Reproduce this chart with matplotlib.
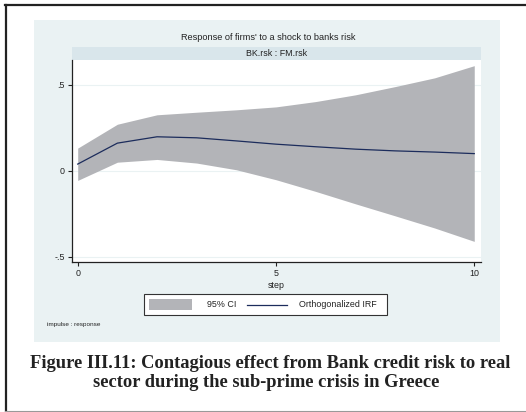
import numpy as np
import matplotlib
matplotlib.use("Agg")
import matplotlib.pyplot as plt
from matplotlib.patches import Rectangle
from matplotlib.lines import Line2D

# ==== IRF data ====
steps = [0, 1, 2, 3, 4, 5, 6, 7, 8, 9, 10]
irf = [0.039, 0.161, 0.198, 0.192, 0.174, 0.155, 0.140, 0.126, 0.116, 0.109, 0.100]
ci_upper = [0.132, 0.271, 0.326, 0.341, 0.355, 0.372, 0.403, 0.442, 0.490, 0.541, 0.612]
ci_lower = [-0.056, 0.050, 0.066, 0.045, 0.006, -0.052, -0.120, -0.192, -0.262, -0.333, -0.411]
yticks = [-0.5, 0, 0.5]
ytick_labels = ['-.5', '0', '.5']
xticks = [0, 5, 10]

title = "Response of firms' to a shock to banks risk"
strip_text = "BK.rsk : FM.rsk"
caption_1 = "Figure III.11: Contagious effect from Bank credit risk to real"
caption_2 = "sector during the sub-prime crisis in Greece"

W, H = 526, 412
panel_col = '#eaf2f3'
strip_col = '#d9e6eb'
band_col = '#b3b4b8'
line_col = '#1c2c5c'
sans = ['Liberation Sans', 'DejaVu Sans']
serif = ['Liberation Serif', 'DejaVu Serif']
fs = 6.4


def fx(px):
    return px / W


def fy(py):
    return 1 - py / H


fig = plt.figure(figsize=(W / 100, H / 100), dpi=100)
fig.patch.set_facecolor('white')

# ==== outer frame ====
fig.add_artist(Line2D([fx(6), fx(6)], [fy(4.5), fy(411)], color='#222222', lw=1.6))
fig.add_artist(Line2D([fx(5), 1], [fy(4.5), fy(4.5)], color='#222222', lw=1.6))
fig.add_artist(Line2D([fx(5), 1], [fy(411), fy(411)], color='#999999', lw=0.8))

# ==== Stata graph region ====
fig.add_artist(Rectangle((fx(34), fy(342)), fx(500) - fx(34), fy(20) - fy(342),
                         facecolor=panel_col, edgecolor='none', zorder=0))
fig.text(fx(268), fy(37), title, ha='center', va='center', fontsize=6.6, family=sans,
         color='#222222')

# strip
sax = fig.add_axes([fx(72), fy(60), fx(481) - fx(72), fy(47.3) - fy(60)])
sax.set_facecolor(strip_col)
sax.set_xticks([])
sax.set_yticks([])
for s in sax.spines.values():
    s.set_visible(False)
sax.text(0.5, 0.5, strip_text, ha='center', va='center', fontsize=fs, family=sans,
         color='#222222', transform=sax.transAxes)

# ==== Main Plot ====
ax = fig.add_axes([fx(72), fy(262), fx(481) - fx(72), fy(60) - fy(262)])
ax.set_facecolor('white')
ax.fill_between(steps, ci_lower, ci_upper, color=band_col, lw=0, zorder=2)
ax.plot(steps, irf, color=line_col, lw=0.9, zorder=3)
for yv in yticks:
    ax.axhline(yv, color=panel_col, lw=0.8, zorder=1)

ax.set_xlim(-0.144, 10.17)
ax.set_ylim(-0.531, 0.645)
ax.set_xticks(xticks)
ax.set_xticklabels([str(x) for x in xticks])
ax.set_yticks(yticks)
ax.set_yticklabels(ytick_labels)
ax.tick_params(length=3, width=0.8, color='#222222', labelsize=fs, pad=2,
               labelcolor='#222222')
for lab in ax.get_xticklabels() + ax.get_yticklabels():
    lab.set_family(sans)
ax.spines['top'].set_visible(False)
ax.spines['right'].set_visible(False)
for s in ('left', 'bottom'):
    ax.spines[s].set_color('#222222')
    ax.spines[s].set_linewidth(0.9)
ax.set_xlabel('step', fontsize=fs, family=sans, color='#222222', labelpad=2.5)

# ==== legend ====
fig.add_artist(Rectangle((fx(143.5), fy(315)), fx(387) - fx(143.5), fy(294) - fy(315),
                         facecolor='white', edgecolor='#333333', lw=0.8))
fig.add_artist(Rectangle((fx(148.5), fy(310)), fx(192) - fx(148.5), fy(299) - fy(310),
                         facecolor=band_col, edgecolor='none'))
fig.text(fx(222), fy(304.5), '95% CI', ha='center', va='center', fontsize=fs,
         family=sans, color='#222222')
fig.add_artist(Line2D([fx(247), fx(287)], [fy(304.5), fy(304.5)], color=line_col, lw=0.9))
fig.text(fx(338), fy(304.5), 'Orthogonalized IRF', ha='center', va='center',
         fontsize=fs, family=sans, color='#222222')
fig.text(fx(47), fy(324.5), 'impulse : response', ha='left', va='center', fontsize=4.6,
         family=sans, color='#222222')

# ==== caption ====
fig.text(fx(270.4), fy(368.3), caption_1, ha='center', va='baseline', fontsize=13.3,
         family=serif, weight='bold', color='#222222')
fig.text(fx(266), fy(386.7), caption_2, ha='center', va='baseline', fontsize=13.3,
         family=serif, weight='bold', color='#222222')

fig.savefig('out.png', dpi=100)
